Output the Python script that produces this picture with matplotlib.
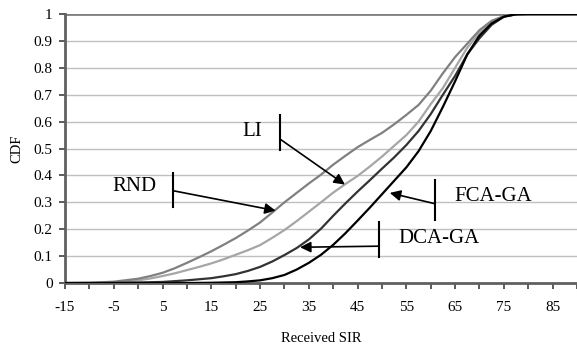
import numpy as np
import matplotlib
matplotlib.use('Agg')
import matplotlib.pyplot as plt

# x positions (Received SIR) where the curves were read
sir = [-15, -10, -5, 0, 2.5, 5, 7.5, 10, 12.5, 15, 17.5, 20, 22.5, 25, 27.5, 30,
       32.5, 35, 37.5, 40, 42.5, 45, 47.5, 50, 52.5, 55, 57.5, 60, 62.5, 65,
       67.5, 70, 72.5, 75, 77.5, 80, 85, 90]

cdf_rnd = [0, 0.001, 0.005, 0.016, 0.026, 0.038, 0.055, 0.075, 0.096, 0.118, 0.142,
           0.167, 0.195, 0.225, 0.262, 0.300, 0.335, 0.370, 0.403, 0.440, 0.473,
           0.505, 0.532, 0.558, 0.590, 0.625, 0.662, 0.715, 0.780, 0.840, 0.890,
           0.940, 0.975, 0.992, 0.999, 1, 1, 1]

cdf_li = [0, 0.0005, 0.002, 0.010, 0.017, 0.026, 0.036, 0.048, 0.060, 0.073, 0.088,
          0.105, 0.122, 0.141, 0.168, 0.197, 0.230, 0.265, 0.300, 0.336, 0.368,
          0.398, 0.433, 0.470, 0.510, 0.550, 0.600, 0.665, 0.725, 0.800, 0.875,
          0.930, 0.972, 0.992, 0.999, 1, 1, 1]

cdf_dca = [0, 0, 0.0005, 0.002, 0.003, 0.004, 0.007, 0.010, 0.014, 0.018, 0.025,
           0.033, 0.045, 0.060, 0.080, 0.104, 0.130, 0.162, 0.202, 0.250, 0.296,
           0.340, 0.382, 0.425, 0.467, 0.513, 0.565, 0.628, 0.700, 0.770, 0.850,
           0.910, 0.960, 0.990, 0.999, 1, 1, 1]

cdf_fca = [0, 0, 0, 0, 0, 0, 0, 0, 0.0005, 0.001, 0.002, 0.003, 0.006, 0.010,
           0.018, 0.030, 0.050, 0.075, 0.105, 0.142, 0.185, 0.232, 0.280, 0.330,
           0.380, 0.430, 0.490, 0.565, 0.655, 0.750, 0.850, 0.920, 0.965, 0.990,
           0.999, 1, 1, 1]

x_ticks = list(range(-15, 91, 5))
y_ticks = [0, 0.1, 0.2, 0.3, 0.4, 0.5, 0.6, 0.7, 0.8, 0.9, 1]

plt.rcParams['font.family'] = ['Liberation Serif', 'DejaVu Serif']

fig = plt.figure(figsize=(5.77, 3.46), dpi=100)
ax = fig.add_axes([0.1127, 0.182, 0.8873, 0.7775])

# horizontal gridlines
for yv in y_ticks[1:-1]:
    ax.axhline(yv, color='#c0c0c0', lw=1.0, zorder=0)
ax.axhline(1.0, color='#808080', lw=2.0, zorder=1)

ax.plot(sir, cdf_li, color='#a6a6a6', lw=1.6, zorder=3)
ax.plot(sir, cdf_rnd, color='#808080', lw=1.6, zorder=3)
ax.plot(sir, cdf_dca, color='#333333', lw=1.6, zorder=4)
ax.plot(sir, cdf_fca, color='#000000', lw=1.6, zorder=5)

ax.set_xlim(-15, 90)
ax.set_ylim(0, 1)
ax.set_xticks(x_ticks)
ax.set_xticklabels([str(v) if (v + 15) % 10 == 0 and v < 90 else '' for v in x_ticks])
ax.set_yticks(y_ticks)
ax.set_yticklabels(['0', '0.1', '0.2', '0.3', '0.4', '0.5', '0.6', '0.7', '0.8', '0.9', '1'])
ax.tick_params(axis='both', direction='out', length=4, width=1.2, color='#404040',
               labelsize=11)
ax.tick_params(axis='x', pad=9)
ax.tick_params(axis='y', pad=5)

for side in ['top', 'right']:
    ax.spines[side].set_visible(False)
for side in ['left', 'bottom']:
    ax.spines[side].set_color('#606060')
    ax.spines[side].set_linewidth(2.0)

ax.set_xlabel('Received SIR', fontsize=10.5, labelpad=13)
ax.set_ylabel('CDF', fontsize=10.5, labelpad=7)

# callout labels: text, bar, arrow
def callout(text, tx, ty, bx, by0, by1, ay, tipx, tipy):
    ax.text(tx, ty, text, fontsize=15, ha='center', va='center', zorder=6)
    ax.plot([bx, bx], [by0, by1], color='black', lw=1.5, zorder=6)
    ax.annotate('', xy=(tipx, tipy), xytext=(bx, ay),
                arrowprops=dict(arrowstyle='-|>', color='black', lw=1.2,
                                mutation_scale=16, shrinkA=0, shrinkB=0), zorder=6)

callout('RND', -0.7, 0.357, 7.2, 0.283, 0.41, 0.343, 28.2, 0.269)
callout('LI', 23.3, 0.562, 29.1, 0.495, 0.625, 0.535, 42.4, 0.366)
callout('FCA-GA', 72.9, 0.323, 60.8, 0.235, 0.383, 0.295, 51.6, 0.335)
callout('DCA-GA', 61.6, 0.167, 49.4, 0.098, 0.228, 0.137, 33.2, 0.133)

fig.savefig('out.png', dpi=100)
